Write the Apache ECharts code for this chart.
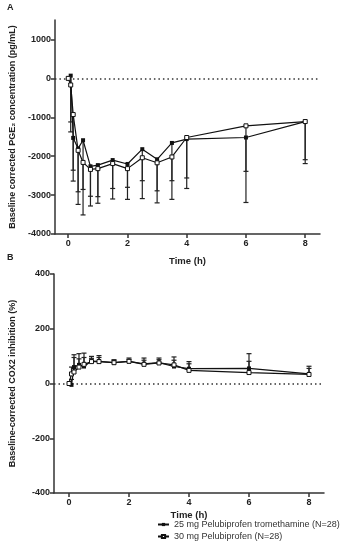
<!DOCTYPE html>
<html>
<head>
<meta charset="utf-8">
<script src="https://cdn.jsdelivr.net/npm/echarts@6/dist/echarts.min.js"></script>
<style>
html,body{margin:0;padding:0;background:#fff;}
#c{width:352px;height:550px;}
</style>
</head>
<body>
<div id="c"></div>
<script>
// Time points (h)
var times = [0, 0.083, 0.167, 0.333, 0.5, 0.75, 1, 1.5, 2, 2.5, 3, 3.5, 4, 6, 8];
// Panel A: baseline corrected PGE2 (pg/mL), mean and SD
var pgeTromethamine = [0, 70, -1530, -1800, -1590, -2260, -2230, -2100, -2200, -1820, -2080, -1660, -1560, -1520, -1110];
var pgeTromethamineSD = [0, 1190, 1110, 1115, 1265, 770, 810, 730, 600, 810, 810, 970, 1000, 1670, 980];
var pgePelubiprofen = [0, -170, -930, -1850, -2160, -2340, -2320, -2190, -2320, -2040, -2170, -2020, -1520, -1220, -1110];
var pgePelubiprofenSD = [0, 1206, 1430, 1390, 1350, 940, 890, 910, 790, 1050, 1030, 1090, 1310, 1170, 1080];
// Panel B: baseline-corrected COX2 inhibition (%), mean and SD
var coxTromethamine = [0, -5, 60, 68, 62, 82, 81, 76, 81, 72, 76, 62, 54, 55, 35];
var coxTromethamineSD = [0, 20, 35, 22, 33, 10, 14, 8, 7, 13, 11, 23, 18, 54, 28];
var coxPelubiprofen = [0, 35, 42, 60, 70, 80, 80, 76, 81, 70, 75, 68, 48, 40, 33];
var coxPelubiprofenSD = [0, 25, 63, 49, 41, 19, 22, 11, 12, 23, 18, 29, 32, 41, 22];
// Tick labels
var xTicks = [0, 2, 4, 6, 8];
var yTicksA = [-4000, -3000, -2000, -1000, 0, 1000];
var yTicksB = [-400, -200, 0, 200, 400];
var seriesNames = ['25 mg Pelubiprofen tromethamine (N=28)', '30 mg Pelubiprofen (N=28)'];

var FONT = 'Liberation Sans, Arial, sans-serif';
var AX = '#333';

function pts(ys) { return times.map(function (t, i) { return [t, ys[i]]; }); }
function errPts(ys, sd, dir) {
  var out = [];
  times.forEach(function (t, i) { if (sd[i] > 0) out.push([t, ys[i], ys[i] + dir * sd[i]]); });
  return out;
}
function renderErr(params, api) {
  var p0 = api.coord([api.value(0), api.value(1)]);
  var p1 = api.coord([api.value(0), api.value(2)]);
  var st = { stroke: '#222', lineWidth: 1.2 };
  return {
    type: 'group',
    children: [
      { type: 'line', shape: { x1: p0[0], y1: p0[1], x2: p1[0], y2: p1[1] }, style: st },
      { type: 'line', shape: { x1: p1[0] - 2.5, y1: p1[1], x2: p1[0] + 2.5, y2: p1[1] }, style: st }
    ]
  };
}
function plain(v) { return String(v); }
function xAxis(idx, min, max, gap) {
  return {
    type: 'value', gridIndex: idx, min: min, max: max,
    name: 'Time (h)', nameLocation: 'middle', nameGap: gap,
    nameTextStyle: { fontFamily: FONT, fontWeight: 'bold', fontSize: 9.5, color: '#222' },
    axisLine: { show: true, onZero: false, lineStyle: { color: AX, width: 1.5 } },
    axisTick: { show: true, length: 4, lineStyle: { color: AX, width: 1.5 }, customValues: xTicks },
    axisLabel: { fontFamily: FONT, fontWeight: 'bold', fontSize: 9, color: '#222', margin: 5, customValues: xTicks, formatter: plain },
    splitLine: { show: false }
  };
}
function yAxis(idx, min, max, ticks, name) {
  return {
    type: 'value', gridIndex: idx, min: min, max: max,
    name: name, nameLocation: 'middle', nameGap: 37,
    nameTextStyle: { fontFamily: FONT, fontWeight: 'bold', fontSize: 9, color: '#222' },
    axisLine: { show: true, onZero: false, lineStyle: { color: AX, width: 1.5 } },
    axisTick: { show: true, length: 4, lineStyle: { color: AX, width: 1.5 }, customValues: ticks },
    axisLabel: { fontFamily: FONT, fontWeight: 'bold', fontSize: 9, color: '#222', margin: 4, customValues: ticks, formatter: plain },
    splitLine: { show: false }
  };
}
function lineSeries(name, xi, ys, filled, withZero) {
  var s = {
    name: name, type: 'line', xAxisIndex: xi, yAxisIndex: xi, data: pts(ys),
    symbol: 'rect', symbolSize: 4, showSymbol: true,
    lineStyle: { color: '#111', width: 1.2 },
    itemStyle: filled ? { color: '#111' } : { color: '#fff', borderColor: '#111', borderWidth: 1 },
    z: 5, animation: false
  };
  if (withZero) {
    s.markLine = {
      silent: true, symbol: 'none', label: { show: false },
      lineStyle: { color: '#333', type: [1.5, 3], width: 1.5 },
      data: [{ yAxis: 0 }]
    };
  }
  return s;
}
function errSeries(xi, data) {
  return { type: 'custom', xAxisIndex: xi, yAxisIndex: xi, data: data, renderItem: renderErr, encode: { x: 0, y: [1, 2] }, z: 3, animation: false, silent: true };
}

var chart = echarts.init(document.getElementById('c'));
chart.setOption({
  animation: false,
  backgroundColor: '#fff',
  textStyle: { fontFamily: FONT },
  graphic: [
    { type: 'text', left: 7, top: 3, style: { text: 'A', font: 'bold 9px ' + FONT, fill: '#222' } },
    { type: 'text', left: 7, top: 253, style: { text: 'B', font: 'bold 9px ' + FONT, fill: '#222' } }
  ],
  grid: [
    { left: 50, top: 20, width: 270, height: 214 },
    { left: 48, top: 274, width: 276, height: 219 }
  ],
  xAxis: [xAxis(0, -0.45, 8.5, 22), xAxis(1, -0.5, 8.5, 17)],
  yAxis: [
    yAxis(0, -4000, 1500, yTicksA, 'Baseline corrected PGE\u2082 concentration (pg/mL)'),
    yAxis(1, -400, 400, yTicksB, 'Baseline-corrected COX2 inhibition (%)')
  ],
  legend: {
    data: seriesNames, orient: 'vertical', left: 152, top: 515, itemGap: 3,
    itemWidth: 11, itemHeight: 4,
    textStyle: { fontFamily: FONT, fontSize: 9, color: '#333' }
  },
  series: [
    errSeries(0, errPts(pgeTromethamine, pgeTromethamineSD, -1)),
    errSeries(0, errPts(pgePelubiprofen, pgePelubiprofenSD, -1)),
    lineSeries(seriesNames[0], 0, pgeTromethamine, true, true),
    lineSeries(seriesNames[1], 0, pgePelubiprofen, false, false),
    errSeries(1, errPts(coxTromethamine, coxTromethamineSD, 1)),
    errSeries(1, errPts(coxPelubiprofen, coxPelubiprofenSD, 1)),
    lineSeries(seriesNames[0], 1, coxTromethamine, true, true),
    lineSeries(seriesNames[1], 1, coxPelubiprofen, false, false)
  ]
});
</script>
</body>
</html>
